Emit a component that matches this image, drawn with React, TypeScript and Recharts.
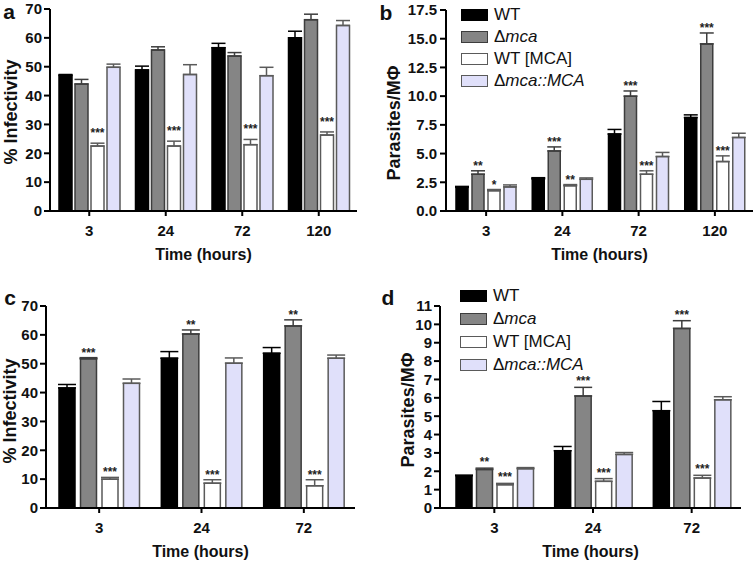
import React from 'react';
import { BarChart, Bar, XAxis, YAxis, ErrorBar, LabelList, Legend } from 'recharts';

const FONT = '"Liberation Sans", Arial, Helvetica, sans-serif';

const seriesNames = ['WT', 'Δmca', 'WT [MCA]', 'Δmca::MCA'];

// ---- Panel a: % Infectivity ----
const catsA = ['3', '24', '72', '120'];
const aWT = [47.0, 48.9, 56.6, 60.0];
const aMca = [44.0, 55.8, 53.7, 66.3];
const aWTMCA = [22.5, 22.5, 23.0, 26.3];
const aComp = [49.8, 47.3, 46.9, 64.3];
const aWTErr = [0.3, 1.3, 1.5, 2.3];
const aMcaErr = [1.6, 1.1, 1.2, 1.9];
const aWTMCAErr = [1.0, 1.7, 1.8, 1.1];
const aCompErr = [1.1, 3.4, 2.9, 1.7];
const aStarsMca = ['', '', '', ''];
const aStarsWTMCA = ['***', '***', '***', '***'];

// ---- Panel b: Parasites/MΦ ----
const catsB = ['3', '24', '72', '120'];
const bWT = [2.06, 2.8, 6.7, 8.13];
const bMca = [3.2, 5.23, 10.0, 14.55];
const bWTMCA = [1.77, 2.2, 3.2, 4.3];
const bComp = [2.1, 2.76, 4.74, 6.4];
const bWTErr = [0.08, 0.1, 0.4, 0.24];
const bMcaErr = [0.3, 0.35, 0.45, 0.95];
const bWTMCAErr = [0.1, 0.1, 0.3, 0.5];
const bCompErr = [0.17, 0.12, 0.36, 0.37];
const bStarsMca = ['**', '***', '***', '***'];
const bStarsWTMCA = ['*', '**', '***', '***'];

// ---- Panel c: % Infectivity ----
const catsC = ['3', '24', '72'];
const cWT = [41.6, 51.9, 53.6];
const cMca = [51.7, 60.3, 63.1];
const cWTMCA = [10.0, 8.6, 7.7];
const cComp = [43.2, 50.2, 51.9];
const cWTErr = [1.2, 2.3, 2.0];
const cMcaErr = [0.4, 1.4, 2.1];
const cWTMCAErr = [0.6, 1.2, 2.1];
const cCompErr = [1.5, 1.8, 1.1];
const cStarsMca = ['***', '**', '**'];
const cStarsWTMCA = ['***', '***', '***'];

// ---- Panel d: Parasites/MΦ ----
const catsD = ['3', '24', '72'];
const dWT = [1.76, 3.12, 5.3];
const dMca = [2.1, 6.1, 9.78];
const dWTMCA = [1.27, 1.45, 1.63];
const dComp = [2.14, 2.92, 5.89];
const dWTErr = [0.03, 0.23, 0.5];
const dMcaErr = [0.07, 0.47, 0.42];
const dWTMCAErr = [0.07, 0.15, 0.15];
const dCompErr = [0.06, 0.1, 0.17];
const dStarsMca = ['**', '***', '***'];
const dStarsWTMCA = ['***', '***', '***'];

const ticksInf = [0, 10, 20, 30, 40, 50, 60, 70];
const ticksB = [0, 2.5, 5, 7.5, 10, 12.5, 15, 17.5];
const ticksD = [0, 1, 2, 3, 4, 5, 6, 7, 8, 9, 10, 11];

const styles = [
  { fill: '#000000', stroke: '#000000', err: '#000000' },
  { fill: '#858585', stroke: '#3d3d3d', err: '#3d3d3d' },
  { fill: '#ffffff', stroke: '#5a5a5a', err: '#5a5a5a' },
  { fill: '#e0e0fa', stroke: '#5a5a5a', err: '#5a5a5a' },
];

type Cfg = {
  left: number; top: number; width: number; height: number;
  margin: { top: number; right: number; left: number; bottom: number };
  yw: number; xh: number; ytm: number; padL: number;
  cats: string[]; vals: number[][]; errs: number[][]; stars: string[][];
  domain: [number, number]; ticks: number[]; fmt?: (v: number) => string;
  barSize: number; barGap: number; capW: number; starGap: number;
  yLabel: string; yLabelX: number; yLabelY: number;
  legend?: { left: number; top: number; row: number };
};

const emptyStars = (n: number) => Array.from({ length: n }, () => '');

const cfgA: Cfg = {
  left: 0, top: 0, width: 377, height: 280,
  margin: { top: 9, right: 20, left: 0, bottom: 0 }, yw: 50, xh: 69, ytm: 2, padL: 1,
  cats: catsA,
  vals: [aWT, aMca, aWTMCA, aComp], errs: [aWTErr, aMcaErr, aWTMCAErr, aCompErr],
  stars: [emptyStars(4), aStarsMca, aStarsWTMCA, emptyStars(4)],
  domain: [0, 70], ticks: ticksInf,
  barSize: 13, barGap: 3, capW: 7, starGap: 6,
  yLabel: '% Infectivity', yLabelX: 11, yLabelY: 112,
};
const cfgB: Cfg = {
  left: 377, top: 0, width: 377, height: 280,
  margin: { top: 10, right: 1, left: 0, bottom: 0 }, yw: 69, xh: 69, ytm: 3, padL: 2,
  cats: catsB,
  vals: [bWT, bMca, bWTMCA, bComp], errs: [bWTErr, bMcaErr, bWTMCAErr, bCompErr],
  stars: [emptyStars(4), bStarsMca, bStarsWTMCA, emptyStars(4)],
  domain: [0, 17.5], ticks: ticksB, fmt: (v: number) => v.toFixed(1),
  barSize: 12, barGap: 4, capW: 7, starGap: 1,
  yLabel: 'Parasites/MΦ', yLabelX: 17, yLabelY: 123,
  legend: { left: 84, top: 3.5, row: 22 },
};
const cfgC: Cfg = {
  left: 0, top: 280, width: 377, height: 281,
  margin: { top: 26, right: 22, left: 0, bottom: 0 }, yw: 46, xh: 53, ytm: 2, padL: 2,
  cats: catsC,
  vals: [cWT, cMca, cWTMCA, cComp], errs: [cWTErr, cMcaErr, cWTMCAErr, cCompErr],
  stars: [emptyStars(3), cStarsMca, cStarsWTMCA, emptyStars(3)],
  domain: [0, 70], ticks: ticksInf,
  barSize: 16, barGap: 5.5, capW: 9, starGap: 1,
  yLabel: '% Infectivity', yLabelX: 10, yLabelY: 131,
};
const cfgD: Cfg = {
  left: 377, top: 280, width: 377, height: 281,
  margin: { top: 26, right: 13, left: 0, bottom: 0 }, yw: 63, xh: 53, ytm: 2, padL: 5,
  cats: catsD,
  vals: [dWT, dMca, dWTMCA, dComp], errs: [dWTErr, dMcaErr, dWTMCAErr, dCompErr],
  stars: [emptyStars(3), dStarsMca, dStarsWTMCA, emptyStars(3)],
  domain: [0, 11], ticks: ticksD,
  barSize: 16, barGap: 4.5, capW: 9, starGap: 2,
  yLabel: 'Parasites/MΦ', yLabelX: 31, yLabelY: 130,
  legend: { left: 83, top: 4.5, row: 23 },
};

const nameNode = (s: number) => {
  if (s === 1) return (<span>Δ<i>mca</i></span>);
  if (s === 3) return (<span>Δ<i>mca::MCA</i></span>);
  return <span>{seriesNames[s]}</span>;
};

const tickStyle = { fill: '#111', fontSize: 15, fontWeight: 'bold' as const, fontFamily: FONT };

function Panel({ cfg }: { cfg: Cfg }) {
  const data = cfg.cats.map((c, i) => {
    const row: any = { cat: c };
    for (let s = 0; s < 4; s++) {
      row['v' + s] = cfg.vals[s][i];
      row['e' + s] = [0, cfg.errs[s][i]];
      row['s' + s] = cfg.stars[s][i];
    }
    return row;
  });
  const plotLeft = cfg.margin.left + cfg.yw;
  const plotRight = cfg.width - cfg.margin.right;
  const plotBottom = cfg.height - cfg.margin.bottom - cfg.xh;

  const starRenderer = (s: number) => (props: any) => {
    const vb = props.viewBox && props.viewBox.width !== undefined ? props.viewBox : props;
    const { x, y, width, height } = vb;
    const value = props.value;
    const index = props.index;
    if (!value) return null;
    const v = cfg.vals[s][index];
    const e = cfg.errs[s][index];
    const pxPer = Math.abs(height) / v;
    const top = Math.min(y, y + height) - e * pxPer;
    return (
      <text x={x + width / 2} y={top - cfg.starGap} textAnchor="middle" fontSize={12}
        fontWeight="bold" fill="#222" fontFamily={FONT}>{value}</text>
    );
  };

  const legendContent = () => (
    <div style={{ fontFamily: FONT, fontSize: 17, color: '#111', whiteSpace: 'nowrap' }}>
      {styles.map((st, s) => (
        <div key={s} style={{ display: 'flex', alignItems: 'center', height: cfg.legend ? cfg.legend.row : 22 }}>
          <div style={{ width: 27, height: 12, background: st.fill, border: `1.5px solid ${st.stroke}`, boxSizing: 'border-box', marginRight: 6 }} />
          {nameNode(s)}
        </div>
      ))}
    </div>
  );

  return (
    <div style={{ position: 'absolute', left: cfg.left, top: cfg.top, width: cfg.width, height: cfg.height }}>
      <BarChart width={cfg.width} height={cfg.height} data={data} margin={cfg.margin}
        barGap={cfg.barGap} barSize={cfg.barSize}>
        <XAxis dataKey="cat" height={cfg.xh} interval={0} padding={{ left: cfg.padL, right: 0 }}
          axisLine={{ stroke: '#000', strokeWidth: 2 }} tickLine={{ stroke: '#000', strokeWidth: 2 }}
          tickSize={5} tickMargin={9} tick={tickStyle}
          label={() => (
            <text x={(plotLeft + plotRight) / 2} y={plotBottom + 49} textAnchor="middle"
              fontSize={16} fontWeight="bold" fill="#111" fontFamily={FONT}>Time (hours)</text>
          )} />
        <YAxis type="number" domain={cfg.domain} ticks={cfg.ticks} interval={0} width={cfg.yw}
          tickFormatter={cfg.fmt} allowDataOverflow
          axisLine={{ stroke: '#000', strokeWidth: 2 }} tickLine={{ stroke: '#000', strokeWidth: 2 }}
          tickSize={6} tickMargin={cfg.ytm} tick={tickStyle}
          label={() => (
            <text x={cfg.yLabelX} y={cfg.yLabelY} transform={`rotate(-90 ${cfg.yLabelX} ${cfg.yLabelY})`}
              textAnchor="middle" dominantBaseline="central" fontSize={18} fontWeight="bold" fill="#111"
              fontFamily={FONT}>{cfg.yLabel}</text>
          )} />
        {cfg.legend && (
          <Legend layout="vertical" align="center" verticalAlign="middle" content={legendContent}
            wrapperStyle={{ left: cfg.legend.left, top: cfg.legend.top, width: 200, height: 100 }} />
        )}
        {styles.map((st, s) => (
          <Bar key={s} dataKey={'v' + s} name={seriesNames[s]} fill={st.fill} stroke={st.stroke}
            strokeWidth={1.5} isAnimationActive={false}>
            <ErrorBar dataKey={'e' + s} width={cfg.capW} stroke={st.err} strokeWidth={1.5} direction="y" />
            <LabelList dataKey={'s' + s} content={starRenderer(s)} />
          </Bar>
        ))}
      </BarChart>
    </div>
  );
}

const letters = [
  { t: 'a', x: 9, y: 19 },
  { t: 'b', x: 386, y: 20 },
  { t: 'c', x: 10, y: 305 },
  { t: 'd', x: 388, y: 305 },
];

export default function App() {
  return (
    <div style={{ position: 'absolute', left: 0, top: 0, width: 754, height: 561, background: '#fff', overflow: 'hidden' }}>
      <Panel cfg={cfgA} />
      <Panel cfg={cfgB} />
      <Panel cfg={cfgC} />
      <Panel cfg={cfgD} />
      <svg width={754} height={561} style={{ position: 'absolute', left: 0, top: 0, pointerEvents: 'none' }}>
        {letters.map((l) => (
          <text key={l.t} x={l.x} y={l.y} textAnchor="middle" fontSize={21} fontWeight="bold"
            fill="#111" fontFamily={FONT}>{l.t}</text>
        ))}
      </svg>
    </div>
  );
}
